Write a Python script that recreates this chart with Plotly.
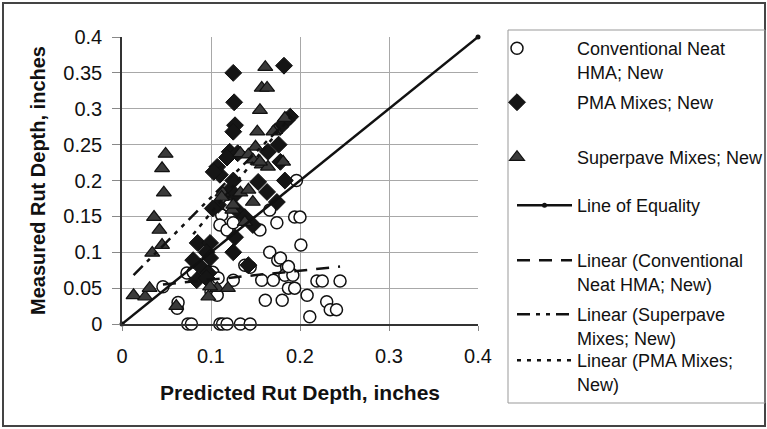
import plotly.graph_objects as go

# ---------------- data ----------------
conv_x = [0.046, 0.073, 0.080, 0.062, 0.063, 0.074, 0.078, 0.110, 0.113, 0.118,
          0.133, 0.144, 0.102, 0.108, 0.125, 0.100, 0.107, 0.090, 0.112, 0.110,
          0.118, 0.125, 0.120, 0.155, 0.174, 0.166, 0.138, 0.144, 0.157, 0.170,
          0.161, 0.180, 0.166, 0.175, 0.185, 0.189, 0.183, 0.187, 0.194, 0.192,
          0.178, 0.187, 0.196, 0.194, 0.200, 0.201, 0.219, 0.225, 0.245, 0.208,
          0.230, 0.234, 0.241, 0.211]
conv_y = [0.052, 0.071, 0.072, 0.022, 0.030, 0.000, 0.000, 0.000, 0.000, 0.000,
          0.000, 0.000, 0.072, 0.064, 0.061, 0.045, 0.040, 0.068, 0.152, 0.138,
          0.131, 0.141, 0.165, 0.131, 0.141, 0.159, 0.082, 0.079, 0.061, 0.061,
          0.033, 0.033, 0.100, 0.089, 0.079, 0.071, 0.068, 0.050, 0.050, 0.068,
          0.092, 0.080, 0.200, 0.149, 0.149, 0.110, 0.060, 0.060, 0.060, 0.040,
          0.031, 0.020, 0.020, 0.010]

pma_x = [0.125, 0.182, 0.126, 0.127, 0.125, 0.121, 0.130, 0.164, 0.176, 0.189,
         0.185, 0.178, 0.107, 0.110, 0.118, 0.178, 0.153, 0.163, 0.125, 0.119,
         0.127, 0.183, 0.174, 0.108, 0.102, 0.129, 0.138, 0.147, 0.085, 0.099,
         0.095, 0.127, 0.125, 0.088, 0.097, 0.084, 0.095, 0.142, 0.080, 0.099,
         0.103]
pma_y = [0.350, 0.360, 0.309, 0.277, 0.268, 0.240, 0.238, 0.240, 0.250, 0.289,
         0.284, 0.275, 0.219, 0.208, 0.232, 0.226, 0.198, 0.184, 0.200, 0.184,
         0.180, 0.200, 0.170, 0.166, 0.161, 0.159, 0.149, 0.138, 0.113, 0.113,
         0.100, 0.121, 0.100, 0.080, 0.071, 0.061, 0.064, 0.082, 0.089, 0.092,
         0.212]

sup_x = [0.049, 0.045, 0.047, 0.036, 0.042, 0.045, 0.034, 0.013, 0.026, 0.031,
         0.061, 0.097, 0.107, 0.119, 0.099, 0.138, 0.124, 0.113, 0.133, 0.147,
         0.125, 0.181, 0.157, 0.164, 0.161, 0.157, 0.163, 0.155, 0.152, 0.150,
         0.172, 0.183, 0.133, 0.142, 0.147, 0.155, 0.170, 0.112, 0.142]
sup_y = [0.237, 0.217, 0.183, 0.149, 0.131, 0.110, 0.099, 0.040, 0.038, 0.050,
         0.025, 0.038, 0.050, 0.050, 0.052, 0.142, 0.159, 0.183, 0.183, 0.170,
         0.166, 0.226, 0.222, 0.219, 0.358, 0.329, 0.329, 0.298, 0.268, 0.247,
         0.270, 0.287, 0.238, 0.236, 0.229, 0.226, 0.268, 0.177, 0.187]

eq_x = [0.0, 0.4]
eq_y = [0.0, 0.4]
conv_fit_x = [0.046, 0.245]
conv_fit_y = [0.055, 0.080]
sup_fit_x = [0.013, 0.183]
sup_fit_y = [0.068, 0.280]
pma_fit_x = [0.080, 0.190]
pma_fit_y = [0.125, 0.290]

x_ticks = [0, 0.1, 0.2, 0.3, 0.4]
y_ticks = [0, 0.05, 0.1, 0.15, 0.2, 0.25, 0.3, 0.35, 0.4]

# ---------------- layout helpers ----------------
W, H = 767, 429
L, R, T, B = 122, 478, 37, 324
def px2x(px):
    return (px - L) / (R - L)
def py2y(py):
    return (B - py) / (B - T)

FONT = "Liberation Sans, Arial, sans-serif"
NB = "\u00a0" * 8

fig = go.Figure()

fig.add_trace(go.Scatter(
    x=conv_x, y=conv_y, mode="markers", name=NB + "Conventional Neat<br>" + NB + "HMA; New",
    marker=dict(symbol="circle", size=12, color="white", line=dict(color="#111", width=1.5)),
    cliponaxis=False, legend="legend"))
fig.add_trace(go.Scatter(
    x=pma_x, y=pma_y, mode="markers", name=NB + "PMA Mixes; New",
    marker=dict(symbol="diamond", size=13, color="#151515", line=dict(color="#111", width=1)),
    cliponaxis=False, legend="legend2"))
fig.add_trace(go.Scatter(
    x=sup_x, y=sup_y, mode="markers", name=NB + "Superpave Mixes; New",
    marker=dict(symbol="triangle-up", size=13, color="#3a3a3a", line=dict(color="#111", width=1.2)),
    cliponaxis=False, legend="legend3"))
fig.add_trace(go.Scatter(
    x=eq_x, y=eq_y, mode="lines+markers", name="Line of Equality",
    line=dict(color="#111", width=2.5), marker=dict(size=5, color="#111"),
    cliponaxis=False, legend="legend4"))
fig.add_trace(go.Scatter(
    x=conv_fit_x, y=conv_fit_y, mode="lines", name="Linear (Conventional<br>Neat HMA; New)",
    line=dict(color="#111", width=2.5, dash="13px,9px"), legend="legend5"))
fig.add_trace(go.Scatter(
    x=sup_fit_x, y=sup_fit_y, mode="lines", name="Linear (Superpave<br>Mixes; New)",
    line=dict(color="#111", width=2.5, dash="13px,6px,4px,6px,4px,6px"), legend="legend6"))
fig.add_trace(go.Scatter(
    x=pma_fit_x, y=pma_fit_y, mode="lines", name="Linear (PMA Mixes;<br>New)",
    line=dict(color="#111", width=2.5, dash="4px,6px"), legend="legend7"))

# legend entry placement (top of each entry, px) and left edge
entry_top = [30, 84, 139, 187, 242, 296, 342]
marker_left = 497
line_left = 512
legends = {}
for i, top in enumerate(entry_top):
    key = "legend" if i == 0 else f"legend{i+1}"
    is_marker = i < 3
    legends[key] = dict(
        x=px2x(marker_left if is_marker else line_left), xanchor="left",
        y=py2y(top), yanchor="top",
        bgcolor="rgba(0,0,0,0)", borderwidth=0,
        font=dict(family=FONT, size=18, color="#111"),
        itemwidth=30 if is_marker else 55, valign="top",
    )

fig.update_layout(
    width=W, height=H,
    margin=dict(l=L, r=W - R, t=T, b=H - B, autoexpand=False),
    paper_bgcolor="white", plot_bgcolor="white",
    font=dict(family=FONT, color="#111"),
    showlegend=True,
    **legends,
    xaxis=dict(
        range=[0, 0.4], tickvals=x_ticks, ticktext=[f"{v:g}" for v in x_ticks],
        showgrid=True, gridcolor="#a8a8a8", gridwidth=1,
        showline=True, linecolor="#333", linewidth=1.5,
        ticks="outside", ticklen=5, tickcolor="#888",
        ticklabelstandoff=8,
        tickfont=dict(family=FONT, size=20, color="#111"),
        zeroline=False,
        title=dict(text="Predicted Rut Depth, inches",
                   font=dict(family=FONT, size=21, weight="bold", color="#111"),
                   standoff=20),
        automargin=False,
    ),
    yaxis=dict(
        range=[0, 0.4], tickvals=y_ticks, ticktext=[f"{v:g}" for v in y_ticks],
        showgrid=True, gridcolor="#a8a8a8", gridwidth=1,
        showline=True, linecolor="#333", linewidth=1.5,
        ticks="outside", ticklen=8, tickcolor="#888",
        ticklabelstandoff=6,
        tickfont=dict(family=FONT, size=20, color="#111"),
        zeroline=False,
        title=dict(text="Measured Rut Depth, inches",
                   font=dict(family=FONT, size=20, weight="bold", color="#111"),
                   standoff=12),
        automargin=False,
    ),
    shapes=[
        dict(type="rect", xref="paper", yref="paper",
             x0=px2x(3), x1=px2x(765), y0=py2y(426), y1=py2y(3),
             line=dict(color="#444", width=2), fillcolor="rgba(0,0,0,0)", layer="below"),
        dict(type="rect", xref="paper", yref="paper",
             x0=px2x(508), x1=px2x(765), y0=py2y(403), y1=py2y(30),
             line=dict(color="#999", width=1), fillcolor="rgba(0,0,0,0)", layer="below"),
    ],
)

fig.write_html("out.html")
